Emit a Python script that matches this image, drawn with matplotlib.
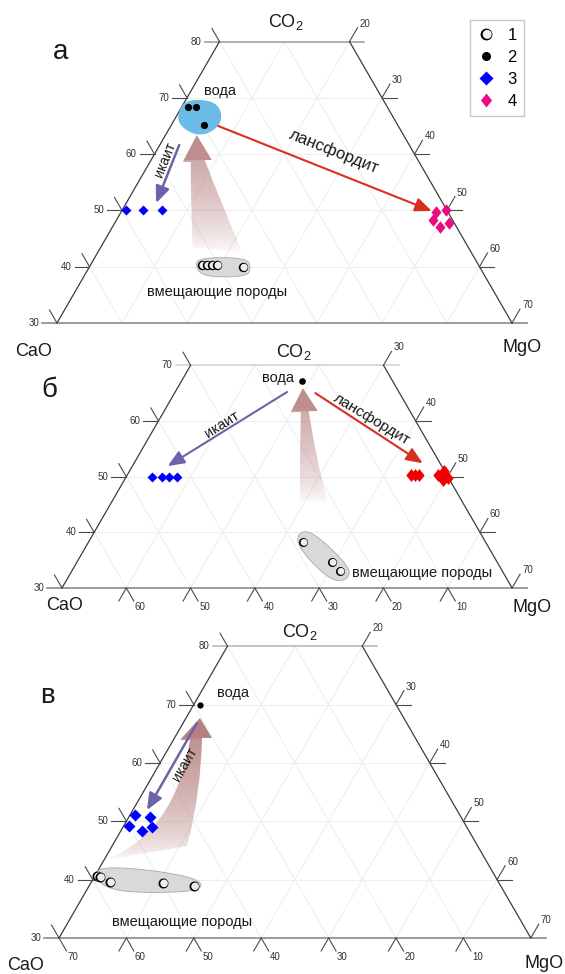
import numpy as np
import matplotlib
matplotlib.use("Agg")
import matplotlib.pyplot as plt
from matplotlib.path import Path
from matplotlib.patches import PathPatch, Polygon, FancyArrowPatch
from matplotlib.lines import Line2D
from matplotlib.transforms import Affine2D
from matplotlib.legend_handler import HandlerTuple

plt.rcParams['font.family'] = ['Liberation Sans', 'DejaVu Sans']
plt.rcParams['mathtext.fontset'] = 'custom'
plt.rcParams['mathtext.rm'] = 'Liberation Sans'
plt.rcParams['mathtext.it'] = 'Liberation Sans:italic'

# ---------------- DATA  (wt.%: CO2, MgO ; CaO = 100 - CO2 - MgO) ----------------
# panel а
a_rock_co2 = [40.3, 40.3, 40.3, 40.3, 40.0]
a_rock_mgo = [17.2, 17.9, 18.7, 19.5, 23.6]
a_water_co2 = [68.4, 68.4, 65.2]
a_water_mgo = [1.0, 2.2, 5.0]
a_ikaite_co2 = [50.0, 50.0, 50.0]
a_ikaite_mgo = [0.6, 3.2, 6.2]
a_lans_co2 = [49.7, 50.0, 48.3, 47.0, 47.8]
a_lans_mgo = [48.5, 49.9, 48.7, 50.4, 51.4]
# panel б
b_rock_co2 = [38.3, 34.7, 33.1]
b_rock_mgo = [33.4, 39.7, 41.7]
b_water_co2 = [67.2]
b_water_mgo = [18.7]
b_ikaite_co2 = [50.0, 50.0, 50.0, 50.0]
b_ikaite_mgo = [4.0, 5.5, 6.7, 7.9]
b_lans_co2 = [50.3, 50.3, 50.3, 50.3, 51.0, 49.8, 49.4]
b_lans_mgo = [44.1, 44.8, 45.4, 48.3, 48.9, 50.1, 49.6]
# panel в
v_rock_co2 = [40.6, 40.5, 39.6, 39.4, 38.9]
v_rock_mgo = [0.4, 0.9, 2.8, 10.7, 15.6]
v_water_co2 = [69.9]
v_water_mgo = [1.0]
v_ikaite_co2 = [51.1, 50.7, 49.2, 48.3, 49.0]
v_ikaite_mgo = [0.8, 3.1, 0.8, 3.2, 4.3]

# outlined fields (CO2, MgO)
a_water_field = [(66.9, 0.1), (69.6, 0.0), (69.4, 4.3), (67.3, 6.7), (64.8, 7.4), (63.2, 5.4), (64.8, 1.8)]
a_rock_field = [(40.1, 16.2), (41.6, 16.1), (41.6, 23.3), (39.8, 25.0), (38.2, 25.0), (38.2, 18.5)]
b_rock_field = [(37.4, 32.9), (40.1, 31.7), (40.1, 34.0), (33.8, 42.9), (31.4, 43.8), (31.3, 41.0)]
v_rock_field = [(40.5, -0.2), (42.2, 0.0), (41.7, 7.7), (40.1, 15.9), (38.1, 17.1), (37.7, 9.7), (38.2, 3.5)]

# process arrows (CO2, MgO) start -> end
a_lans_arrow = [(65.0, 7.3), (49.9, 47.7)]
a_ika_arrow = [(61.6, 3.0), (51.3, 4.6)]
a_fat_tip = (63.4, 4.8)
b_lans_arrow = [(65.0, 21.9), (52.4, 44.9)]
b_ika_arrow = [(65.2, 17.4), (51.9, 5.5)]
b_fat_tip = (65.9, 19.5)
v_ika_arrow = [(66.8, 2.05), (51.9, 2.1)]
v_fat_tip = (67.7, 2.07)

W, H = 565, 974
fig = plt.figure(figsize=(W / 100, H / 100), dpi=100)
PX = Affine2D().scale(1, -1).translate(0, H)   # pixel coords (y down) -> display

SQ = np.sqrt(3) / 2
def txy(co2, mgo):
    co2 = np.asarray(co2, float); mgo = np.asarray(mgo, float)
    return mgo + co2 / 2.0, co2 * SQ

EDGE = '#3c3c3c'
GRID = '#efefef'
TICK = '#4a4a4a'

class Panel:
    def __init__(self, s, px0, py0, top_px, bot_px, co2_top):
        self.s = s
        self.top = co2_top
        self.ax = fig.add_axes([0, 1 - bot_px / H, 1, (bot_px - top_px) / H])
        y0 = 30 * SQ
        self.xlim = (15 - px0 / s, 15 + (W - px0) / s)
        self.ylim = (y0 - (bot_px - py0) / s, y0 + (py0 - top_px) / s)
        self.ax.set_xlim(*self.xlim); self.ax.set_ylim(*self.ylim)
        self.ax.axis('off')

    def restore(self):
        self.ax.set_xlim(*self.xlim); self.ax.set_ylim(*self.ylim)

def frame(p, left_vals, right_vals, bottom_vals, top_color):
    ax, s, top = p.ax, p.s, p.top
    Lh, Lsl, Lsr = 15 / s, 15 / s, 16 / s
    # grid
    for c in range(40, top, 10):
        x, y = txy([c, c], [0, 100 - c])
        ax.plot(x, y, color=GRID, lw=0.8, zorder=1)
    for m in range(10, 70, 10):
        ce = min(top, 100 - m)
        x, y = txy([30, ce], [m, m])
        ax.plot(x, y, color=GRID, lw=0.8, zorder=1)
    for ca in range(10, 70, 10):
        ce = min(top, 100 - ca)
        x, y = txy([30, ce], [70 - ca, 100 - ce - ca])
        ax.plot(x, y, color=GRID, lw=0.8, zorder=1)
    # edges
    xl, yl = txy([30, top], [0, 0])
    xr, yr = txy([30, top], [70, 100 - top])
    ax.plot(xl, yl, color=EDGE, lw=0.9, zorder=3)
    ax.plot(xr, yr, color=EDGE, lw=0.9, zorder=3)
    ax.plot([xl[0] - Lh, xr[0] + Lh], [yl[0], yl[0]], color='#8a8a8a', lw=1.2, zorder=2)
    ax.plot([xl[1] - Lh, xr[1] + Lh], [yl[1], yl[1]], color=top_color, lw=1.1, zorder=2)
    # left ticks (CO2)
    for c in left_vals:
        X, Y = txy(c, 0)
        if c not in (30, top):
            ax.plot([X - Lh, X], [Y, Y], color=TICK, lw=0.8, zorder=3)
        ax.plot([X, X - 0.5 * Lsl], [Y, Y + SQ * Lsl], color=TICK, lw=0.8, zorder=3)
        ax.text(X - Lh - 3 / s, Y, str(c), ha='right', va='center', fontsize=7, color='#333333')
    # right ticks (MgO)
    for m in right_vals:
        c = 100 - m
        X, Y = txy(c, m)
        if c not in (30, top):
            ax.plot([X, X + Lh], [Y, Y], color=TICK, lw=0.8, zorder=3)
        ax.plot([X, X + 0.5 * Lsr], [Y, Y + SQ * Lsr], color=TICK, lw=0.8, zorder=3)
        ax.text(X + 0.5 * Lsr + 2 / s, Y + SQ * Lsr - 1 / s, str(m), ha='left', va='bottom',
                fontsize=7, color='#333333')
    # bottom ticks (CaO)
    for ca in bottom_vals:
        X, Y = txy(30, 70 - ca)
        ax.plot([X, X + 0.5 * Lsl], [Y, Y - SQ * Lsl], color=TICK, lw=0.8, zorder=3)
        if ca != 70:
            ax.plot([X, X - 0.5 * Lsl], [Y, Y - SQ * Lsl], color=TICK, lw=0.8, zorder=3)
        ax.text(X + 0.5 * Lsl + 1 / s, Y - SQ * Lsl - 1 / s, str(ca), ha='left', va='top',
                fontsize=7, color='#333333')

def smooth_closed(pts, n=3):
    P = np.asarray(pts, float)
    for _ in range(n):
        Q = 0.75 * P + 0.25 * np.roll(P, -1, axis=0)
        R = 0.25 * P + 0.75 * np.roll(P, -1, axis=0)
        P = np.empty((2 * len(Q), 2)); P[0::2] = Q; P[1::2] = R
    return P

def field(p, pts, fc, ec, lw=0.6):
    co2 = [q[0] for q in pts]; mgo = [q[1] for q in pts]
    x, y = txy(co2, mgo)
    S = smooth_closed(np.column_stack([x, y]), 4)
    p.ax.add_patch(Polygon(S, closed=True, fc=fc, ec=ec, lw=lw, zorder=4))

def fat_arrow(p, tip, shp, rgb=(0.69, 0.45, 0.45), a_head=0.85, a_neck=0.62, gamma=0.8):
    s = p.s
    tx, ty = txy(tip[0], tip[1])
    def P(k):
        dx, dy = shp[k]
        return (tx + dx / s, ty - dy / s)
    verts = [P('neckR'), P('ctrlR'), P('tailR'), P('tailL'), P('ctrlL'), P('neckL'),
             P('headL'), (tx, ty), P('headR'), P('neckR')]
    codes = [Path.MOVETO, Path.CURVE3, Path.CURVE3, Path.LINETO, Path.CURVE3, Path.CURVE3,
             Path.LINETO, Path.LINETO, Path.LINETO, Path.CLOSEPOLY]
    path = Path(verts, codes)
    patch = PathPatch(path, fc='none', ec='none', zorder=5)
    p.ax.add_patch(patch)
    v = np.array(verts)
    x0, x1 = v[:, 0].min(), v[:, 0].max()
    y0, y1 = v[:, 1].min(), v[:, 1].max()
    yneck = ty - shp['neckR'][1] / s
    ys = np.linspace(y0, y1, 300)
    alpha = np.where(ys >= yneck, a_head,
                     a_neck * np.clip((ys - y0) / (yneck - y0), 0, 1) ** gamma)
    img = np.zeros((len(ys), 2, 4))
    img[:, :, 0], img[:, :, 1], img[:, :, 2] = rgb
    img[:, :, 3] = alpha[:, None]
    im = p.ax.imshow(img, extent=(x0, x1, y0, y1), origin='lower', aspect='auto',
                     interpolation='bilinear', zorder=5)
    im.set_clip_path(patch)
    p.restore()

def thin_arrow(p, seg, color, lw):
    (c0, m0), (c1, m1) = seg
    A = txy(c0, m0); B = txy(c1, m1)
    ar = FancyArrowPatch((float(A[0]), float(A[1])), (float(B[0]), float(B[1])),
                         arrowstyle='-|>,head_length=1.0,head_width=0.42', mutation_scale=10,
                         color=color, lw=lw, shrinkA=0, shrinkB=0, zorder=7)
    p.ax.add_patch(ar)

# crescent marker for the "open" circles
t = np.linspace(0, 2 * np.pi, 64)
outer = np.column_stack([np.cos(t), np.sin(t)])
inner = np.column_stack([0.12 + 0.76 * np.cos(t[::-1]), 0.03 + 0.76 * np.sin(t[::-1])])
CRES = Path(np.vstack([outer, inner]),
            [Path.MOVETO] + [Path.LINETO] * 63 + [Path.MOVETO] + [Path.LINETO] * 63)
TALLD = Path([(0, 1), (0.8, 0), (0, -1), (-0.8, 0), (0, 1)],
             [Path.MOVETO, Path.LINETO, Path.LINETO, Path.LINETO, Path.CLOSEPOLY])

def rocks(p, co2, mgo, ms):
    x, y = txy(co2, mgo)
    for xi, yi in zip(x, y):
        p.ax.plot([xi], [yi], ls='none', marker='o', ms=ms, mfc='#efefef', mec='none', zorder=8)
        p.ax.plot([xi], [yi], ls='none', marker=CRES, ms=ms, mfc='black', mec='none', zorder=8)

def points(p, co2, mgo, marker, ms, color):
    x, y = txy(co2, mgo)
    p.ax.plot(x, y, ls='none', marker=marker, ms=ms, mfc=color, mec='none', zorder=8)

def ptext(p, x, y, s_, size=10.5, rot=0, **kw):
    p.ax.text(x, y, s_, transform=PX, fontsize=size, rotation=rot, ha='center', va='center',
              rotation_mode='anchor', color='#1a1a1a', zorder=10, **kw)

BLUE = '#0000ff'
PINK = '#ea0a84'
RED = '#f20000'
ARED = '#d8301f'
PURP = '#6b64a8'
WATER = '#6bbbe9'

# ===================== panel а =====================
pa = Panel(6.5, 57, 323, 0, 338, 80)
frame(pa, [30, 40, 50, 60, 70, 80], [20, 30, 40, 50, 60, 70], [], '#9a9a9a')
field(pa, a_water_field, WATER, WATER, 1.0)
field(pa, a_rock_field, '#d9d9d9', '#a8a8a8')
fat_arrow(pa, a_fat_tip, dict(headL=(-14, 27), headR=(15, 25), neckL=(-6, 27), neckR=(8, 25),
                              ctrlR=(25, 70), tailR=(46, 118), ctrlL=(-6, 70), tailL=(-4, 112)),
          a_head=0.8, a_neck=0.6, gamma=0.7)
thin_arrow(pa, a_lans_arrow, ARED, 1.5)
thin_arrow(pa, a_ika_arrow, PURP, 1.8)
rocks(pa, a_rock_co2, a_rock_mgo, 6.8)
points(pa, a_water_co2, a_water_mgo, 'o', 5.2, 'black')
points(pa, a_ikaite_co2, a_ikaite_mgo, 'D', 5.1, BLUE)
points(pa, a_lans_co2, a_lans_mgo, TALLD, 9.0, PINK)
ptext(pa, 61, 52, 'а', 20)
ptext(pa, 286, 22, r'CO$_{\rm 2}$', 13)
ptext(pa, 34, 351, 'CaO', 13)
ptext(pa, 522, 348, 'MgO', 13)
ptext(pa, 220, 91, 'вода')
ptext(pa, 217, 292, 'вмещающие породы')
ptext(pa, 334, 151, 'лансфордит', 12, -21.7)
ptext(pa, 165, 160, 'икаит', 10, 68)

h1 = (Line2D([], [], ls='none', marker='o', ms=8.5, mfc='#efefef', mec='none'),
      Line2D([], [], ls='none', marker=CRES, ms=8.5, mfc='black', mec='none'))
h2 = Line2D([], [], ls='none', marker='o', ms=6.5, mfc='black', mec='none')
h3 = Line2D([], [], ls='none', marker='D', ms=7, mfc=BLUE, mec='none')
h4 = Line2D([], [], ls='none', marker=TALLD, ms=10, mfc=PINK, mec='none')
leg = pa.ax.legend([h1, h2, h3, h4], ['1', '2', '3', '4'],
                   handler_map={tuple: HandlerTuple(ndivide=1)},
                   loc='upper left', bbox_to_anchor=(470 / W, 1 - 20 / H),
                   bbox_transform=fig.transFigure, borderaxespad=0, frameon=True,
                   fancybox=False, edgecolor='#c8c8c8', framealpha=1, fontsize=12,
                   handlelength=1.0, handletextpad=0.8, labelspacing=0.42, borderpad=0.45)
leg.set_zorder(20)

# ===================== panel б =====================
pb = Panel(6.43, 62, 588, 338, 618, 70)
frame(pb, [30, 40, 50, 60, 70], [30, 40, 50, 60, 70], [60, 50, 40, 30, 20, 10], '#cfcfcf')
field(pb, b_rock_field, '#d9d9d9', '#a8a8a8')
fat_arrow(pb, b_fat_tip, dict(headL=(-12, 24), headR=(15, 23), neckL=(-2, 24), neckR=(6, 23),
                              ctrlR=(12, 65), tailR=(25, 115), ctrlL=(-3, 68), tailL=(-3, 112)),
          a_head=0.8, a_neck=0.6, gamma=0.7)
thin_arrow(pb, b_lans_arrow, ARED, 1.5)
thin_arrow(pb, b_ika_arrow, PURP, 1.5)
rocks(pb, b_rock_co2, b_rock_mgo, 6.5)
points(pb, b_water_co2, b_water_mgo, 'o', 4.8, 'black')
points(pb, b_ikaite_co2, b_ikaite_mgo, 'D', 4.8, BLUE)
points(pb, b_lans_co2, b_lans_mgo, TALLD, 9.3, RED)
ptext(pb, 49, 390, 'б', 20)
ptext(pb, 294, 352, r'CO$_{\rm 2}$', 13)
ptext(pb, 65, 605, 'CaO', 13)
ptext(pb, 532, 607, 'MgO', 13)
ptext(pb, 278, 378, 'вода')
ptext(pb, 422, 573, 'вмещающие породы')
ptext(pb, 222, 425, 'икаит', 10.5, 32)
ptext(pb, 372, 419, 'лансфордит', 11, -31)

# ===================== panel в =====================
pv = Panel(6.74, 59, 938, 618, 974, 80)
frame(pv, [30, 40, 50, 60, 70, 80], [20, 30, 40, 50, 60, 70], [70, 60, 50, 40, 30, 20, 10], '#b4b4b4')
field(pv, v_rock_field, '#d9d9d9', '#a8a8a8')
fat_arrow(pv, v_fat_tip, dict(headL=(-20, 22), headR=(12, 20), neckL=(-10, 22), neckR=(2, 20),
                              ctrlR=(1, 75), tailR=(-13, 128), ctrlL=(-25, 115), tailL=(-95, 142)),
          a_head=0.9, a_neck=0.78, gamma=0.6)
thin_arrow(pv, v_ika_arrow, PURP, 1.8)
rocks(pv, v_rock_co2, v_rock_mgo, 7.2)
points(pv, v_water_co2, v_water_mgo, 'o', 4.5, 'black')
points(pv, v_ikaite_co2, v_ikaite_mgo, 'D', 6.0, BLUE)
ptext(pv, 47, 696, 'в', 20)
ptext(pv, 300, 632, r'CO$_{\rm 2}$', 13)
ptext(pv, 26, 966, 'CaO', 13)
ptext(pv, 544, 963, 'MgO', 13)
ptext(pv, 233, 693, 'вода')
ptext(pv, 182, 922, 'вмещающие породы')
ptext(pv, 185, 764, 'икаит', 10, 60)

fig.savefig('out.png', dpi=100)
